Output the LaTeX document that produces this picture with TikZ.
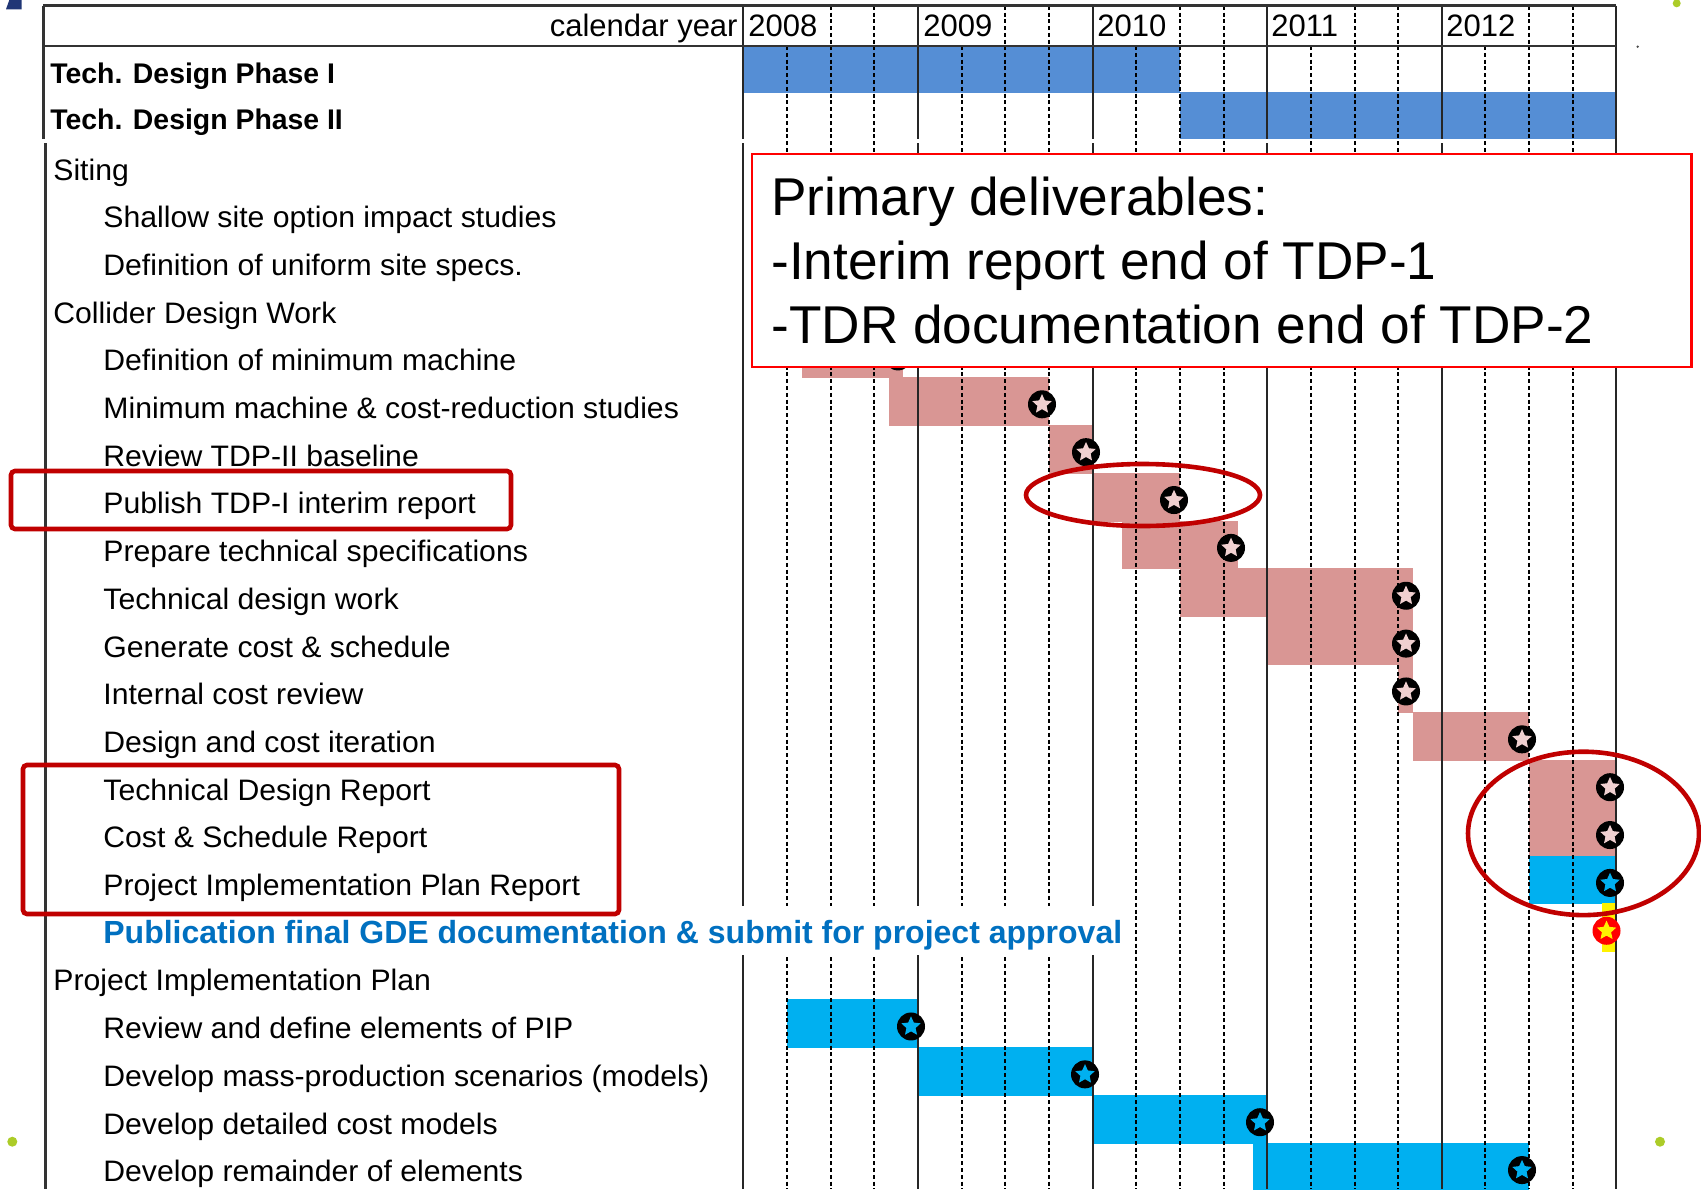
\documentclass[tikz,border=0pt]{standalone}
\usepackage{fontspec}
\setmainfont{Liberation Sans}
\newfontfamily\rowfont[FakeStretch=1.02]{Liberation Sans}
\usetikzlibrary{shapes.geometric}

\definecolor{phaseblue}{RGB}{85,142,213}
\definecolor{taskpink}{RGB}{217,150,148}
\definecolor{pipblue}{RGB}{0,176,240}
\definecolor{gdeblue}{RGB}{0,112,192}
\definecolor{markred}{RGB}{192,0,0}
\definecolor{boxred}{RGB}{255,0,0}
\definecolor{dotgreen}{RGB}{172,204,40}
\definecolor{slidenavy}{RGB}{32,54,118}
\definecolor{starwhite}{RGB}{240,208,208}

\tikzset{
  rowtext/.style={anchor=base west, inner sep=0pt, font=\rowfont\fontsize{14.8}{16}\selectfont},
  headtext/.style={inner sep=0pt, font=\fontsize{15.5}{17}\selectfont},
  phasetext/.style={anchor=base west, inner sep=0pt, font=\fontsize{14.2}{16}\selectfont\bfseries},
  gdetext/.style={anchor=base west, inner sep=0pt, text=gdeblue, font=\fontsize{16}{18}\selectfont\bfseries},
  boxtext/.style={anchor=base west, inner sep=0pt, font=\fontsize{26.6}{32}\selectfont},
  gridsolid/.style={line width=1pt, draw=black!85},
  gridframe/.style={line width=1.25pt, draw=black!80},
  griddash/.style={line width=1pt, draw=black, dash pattern=on 2pt off 1.4pt},
  milestone/.style={circle, fill=black, minimum size=14pt, inner sep=0pt},
  starmark/.style={star, star points=5, star point ratio=2.1, minimum size=10.2pt, inner sep=0pt},
  highlight/.style={draw=markred, line width=2.3pt},
}

\begin{document}
\begin{tikzpicture}[x=0.5pt, y=-0.5pt]
\useasboundingbox (0,0) rectangle (1701,1189);
\fill[white] (0,0) rectangle (1701,1189);

% ---- phase bars ----
\fill[phaseblue] (743.4,46.7) rectangle (1179.9,93.3);
\fill[phaseblue] (1179.9,92) rectangle (1616.4,139.3);

% ---- task bars: row / start month / end month / colour ----
\foreach \k/\a/\b/\c in {4/4/11/taskpink, 5/10/21/taskpink, 6/21/24/taskpink,
    7/24/30/taskpink, 8/26/34/taskpink, 9/30/46/taskpink, 10/36/46/taskpink,
    11/45/46/taskpink, 12/46/54/taskpink, 13/54/60/taskpink, 14/54/60/taskpink,
    15/54/60/pipblue, 16/59/60/yellow, 18/3/12/pipblue, 19/12/24/pipblue,
    20/24/36/pipblue, 21/35/54/pipblue}
  \fill[\c] ({743.4+14.55*\a},{137.7+47.86*\k}) rectangle ({743.4+14.55*\b},{137.7+47.86*(\k+1)+1});

% ---- grid ----
\foreach \j in {0,...,4} {
  \foreach \q in {2,3}
    \draw[griddash] ({743.4+174.6*\j+43.65*\q},5.7) -- ({743.4+174.6*\j+43.65*\q},46);
  \foreach \q in {1,2,3}
    \draw[griddash] ({743.4+174.6*\j+43.65*\q},46) -- ({743.4+174.6*\j+43.65*\q},1189);
  \draw[gridsolid] ({743.4+174.6*\j},5.7) -- ({743.4+174.6*\j},139.3);
  \draw[gridsolid] ({743.4+174.6*\j},143) -- ({743.4+174.6*\j},1189);
}
\draw[gridsolid] (1616.4,5.7) -- (1616.4,1189);
\draw[gridframe] (43.4,5.7) -- (1616.4,5.7);
\draw[gridframe] (43.4,46) -- (1616.4,46);
\draw[gridframe] (43.4,5.7) -- (43.4,139.3);
\draw[gridframe] (45.6,143) -- (45.6,1189);

% the overflowing publication label hides the grid in its row
\fill[white] (740,906) rectangle (1126,955);

% ---- header ----
\node[headtext, anchor=base east] (calyear) at (738,36.7) {calendar year};
\foreach \yr/\xx in {2008/748, 2009/923, 2010/1097, 2011/1271, 2012/1446}
  \node[headtext, anchor=base west] (yr\yr) at (\xx,36.7) {\yr};

\node[phasetext] (tdp1) at (50,83.3) {Tech. Design Phase I};
\node[phasetext] (tdp2) at (50,129.3) {Tech. Design Phase II};

% ---- task labels ----
\foreach \k/\xx/\t in {0/53/Siting, 1/103/Shallow site option impact studies,
    2/103/Definition of uniform site specs., 3/53/Collider Design Work,
    4/103/Definition of minimum machine, 5/103/Minimum machine \& cost-reduction studies,
    6/103/Review TDP-II baseline, 7/103/Publish TDP-I interim report,
    8/103/Prepare technical specifications, 9/103/Technical design work,
    10/103/Generate cost \& schedule, 11/103/Internal cost review,
    12/103/Design and cost iteration, 13/103/Technical Design Report,
    14/103/Cost \& Schedule Report, 15/103/Project Implementation Plan Report,
    17/53/Project Implementation Plan, 18/103/Review and define elements of PIP,
    19/103/Develop mass-production scenarios (models), 20/103/Develop detailed cost models,
    21/103/Develop remainder of elements}
  \node[rowtext] (task\k) at (\xx,{180+47.7*\k}) {\t};
\node[gdetext] (task16) at (103,{180+47.7*16}) {Publication final GDE documentation \& submit for project approval};

% ---- milestones ----
\foreach \k/\xx/\f in {4/898/starwhite, 5/1042/starwhite, 6/1086/starwhite,
    7/1174/starwhite, 8/1231/starwhite, 9/1406/starwhite, 10/1406/starwhite,
    11/1406/starwhite, 12/1522/starwhite, 13/1610/starwhite, 14/1610/starwhite,
    15/1610/pipblue, 18/911/pipblue, 19/1085/pipblue, 20/1260/pipblue, 21/1522/pipblue} {
  \node[milestone] (ms\k) at (\xx,{165+47.86*\k}) {};
  \node[starmark, fill=\f] at (ms\k) {};
}
\node[milestone, fill=red] (ms16) at (1606.5,{165+47.86*16}) {};
\node[starmark, fill=yellow] at (ms16) {};

% ---- deliverables box ----
\draw[boxred, line width=1.3pt, fill=white] (752,154) rectangle (1691.5,367);
\node[boxtext] (del0) at (771,215) {Primary deliverables:};
\node[boxtext] (del1) at (771,279.3) {-Interim report end of TDP-1};
\node[boxtext] (del2) at (771,343.5) {-TDR documentation end of TDP-2};

% ---- highlights ----
\draw[highlight, rounded corners=2pt] (11,471) rectangle (511,529);
\draw[highlight, rounded corners=2pt] (23,765) rectangle (619,914);
\draw[highlight] (1143,495) ellipse [x radius=117, y radius=31];
\draw[highlight] (1583.5,833.4) ellipse [x radius=115.5, y radius=81.7];

% ---- slide decorations ----
\fill[slidenavy] (9.3,0) -- (21.7,0) -- (21.7,9.3) -- (6,9.3) -- cycle;
\fill[dotgreen] (1676.7,3.3) circle (4);
\fill[dotgreen] (12.3,1141.7) circle (5);
\fill[dotgreen] (1660,1141.7) circle (5);
\fill[black!70] (1637.7,46.7) circle (1.3);
\end{tikzpicture}
\end{document}
